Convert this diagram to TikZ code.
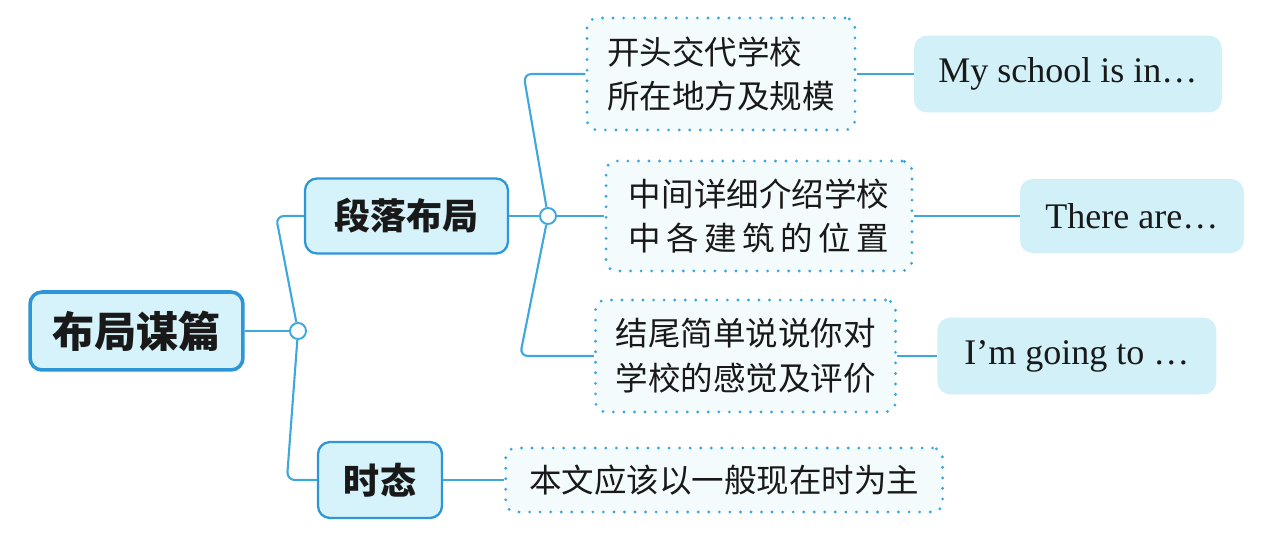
\documentclass[tikz,border=0pt]{standalone}
\usepackage{fontspec}
\setmainfont{Liberation Serif}
\newfontfamily\cjk{Noto Sans CJK SC}
\usetikzlibrary{positioning}
\definecolor{mapBlue}{RGB}{62,168,222}
\definecolor{mapEdge}{RGB}{45,150,215}
\definecolor{mapFill}{RGB}{214,242,250}
\definecolor{leafFill}{RGB}{210,240,247}
\definecolor{dotFill}{RGB}{244,251,253}
\definecolor{inkGray}{RGB}{25,25,25}

\begin{document}
\begin{tikzpicture}[
    x=0.02cm,y=-0.02cm,
    topic/.style={draw=mapEdge,fill=mapFill,rounded corners=0.24cm,line width=1.3pt,text=inkGray,font=\cjk\bfseries\fontsize{20.5}{24}\selectfont},
    idea/.style={draw=mapBlue,fill=dotFill,rounded corners=0.2cm,line width=1.8pt,dash pattern=on 0pt off 6pt,line cap=round,align=left,inner xsep=0.4cm,text=inkGray,font=\cjk\fontsize{18.5}{25.5}\selectfont},
    sample/.style={fill=leafFill,rounded corners=0.26cm,minimum height=1.54cm,text=inkGray,font=\fontsize{20.5}{25}\selectfont},
    hub/.style={circle,draw=mapBlue,fill=white,line width=1.1pt,minimum size=0.32cm,inner sep=0pt},
    link/.style={draw=mapBlue,line width=1.2pt,rounded corners=0.16cm}
  ]
  \useasboundingbox (0,0) rectangle (1283,543);
  % main topics
  \node[topic,line width=2pt,minimum width=4.26cm,minimum height=1.56cm,font=\cjk\bfseries\fontsize{24}{28}\selectfont] (plan) at (136.5,331) {布局谋篇};
  \node[topic,minimum width=4.06cm,minimum height=1.5cm] (layout) at (406.5,216) {段落布局};
  \node[topic,minimum width=2.48cm,minimum height=1.52cm] (tense) at (380,480) {时态};
  \node[hub] (h1) at (298,331) {};
  \node[hub] (h2) at (548,216) {};
  % paragraph ideas
  \node[idea,text width=4.56cm,minimum height=2.24cm] (open) at (721,74) {开头交代学校\\所在地方及规模};
  \node[idea,minimum width=6.12cm,minimum height=2.2cm] (body) at (759,216) {中间详细介绍学校\\\makebox[8em][s]{中\hfill 各\hfill 建\hfill 筑\hfill 的\hfill 位\hfill 置}};
  \node[idea,minimum width=5.9cm,minimum height=2.24cm] (close) at (745.5,356) {结尾简单说说你对\\学校的感觉及评价};
  \node[idea,minimum width=8.74cm,minimum height=1.28cm,right=1.22cm of tense] (main) {本文应该以一般现在时为主};
  % sample sentences
  \node[sample,minimum width=6.16cm,right=1.14cm of open] (ex1) {My school is in…};
  \node[sample,minimum width=4.48cm,minimum height=1.48cm,right=2.12cm of body] (ex2) {There are…};
  \node[sample,minimum width=5.58cm,right=0.8cm of close] (ex3) {I’m going to …};
  % branches
  \draw[link] (plan) -- (h1);
  \draw[link] (h1) -- ([xshift=-0.56cm]layout.west) -- (layout.west);
  \draw[link] (h1) -- ([xshift=-0.6cm]tense.west) -- (tense.west);
  \draw[link] (layout) -- (h2);
  \draw[link] (h2) -- ([xshift=-1.24cm]open.west) -- (open.west);
  \draw[link] (h2) -- (body);
  \draw[link] (h2) -- ([xshift=-1.48cm]close.west) -- (close.west);
  \draw[link] (tense) -- (main);
  \draw[link] (open) -- (ex1);
  \draw[link] (body) -- (ex2);
  \draw[link] (close) -- (ex3);
\end{tikzpicture}
\end{document}
